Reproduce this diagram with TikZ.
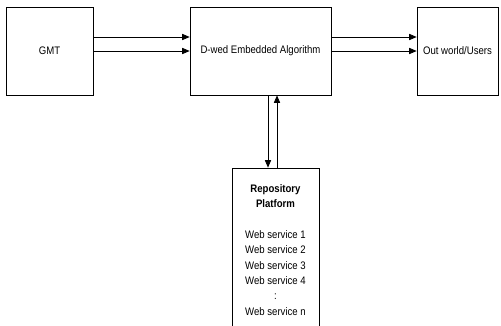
\documentclass[tikz,border=0pt]{standalone}
\usepackage{fontspec}
\setmainfont{Liberation Sans}[FakeStretch=0.88]
\usepackage{tikz}
\usetikzlibrary{arrows}

\begin{document}
\begin{tikzpicture}[x=1pt,y=1pt]
			\tikzstyle{every node}+=[font=\fontsize{10.9}{15.3}\selectfont]
			\tikzstyle{block}=[draw=black, line width=0.7pt, minimum height=88pt, inner sep=0pt]
			\tikzstyle{link}=[draw=black, line width=0.7pt, -triangle 45]
			\useasboundingbox (0,0) rectangle (501,-326);
			\node [block, minimum width=87pt] (gmt) at (49.5,-51) {GMT};
			\node [block, minimum width=141pt] (dwed) at (260.5,-51) {D-wed Embedded Algorithm};
			\node [block, minimum width=81pt] (users) at (457.5,-51) {Out world/Users};
			\node [block, minimum width=87pt, minimum height=164pt, align=center] (repo) at (275.5,-250)
				{\textbf{Repository}\\\textbf{Platform}\\[15.3pt]Web service 1\\Web service 2\\Web service 3\\Web service 4\\:\\Web service n};
			\draw [link] ([yshift=14pt]gmt.east) -- ([yshift=14pt]dwed.west);
			\draw [link] (gmt.east) -- (dwed.west);
			\draw [link] ([yshift=14pt]dwed.east) -- ([yshift=14pt]users.west);
			\draw [link] (dwed.east) -- (users.west);
			\draw [link] ([xshift=7.5pt]dwed.south) -- ([xshift=7.5pt]dwed.south |- repo.north);
			\draw [link] ([xshift=16.5pt]dwed.south |- repo.north) -- ([xshift=16.5pt]dwed.south);
\end{tikzpicture}
\end{document}
